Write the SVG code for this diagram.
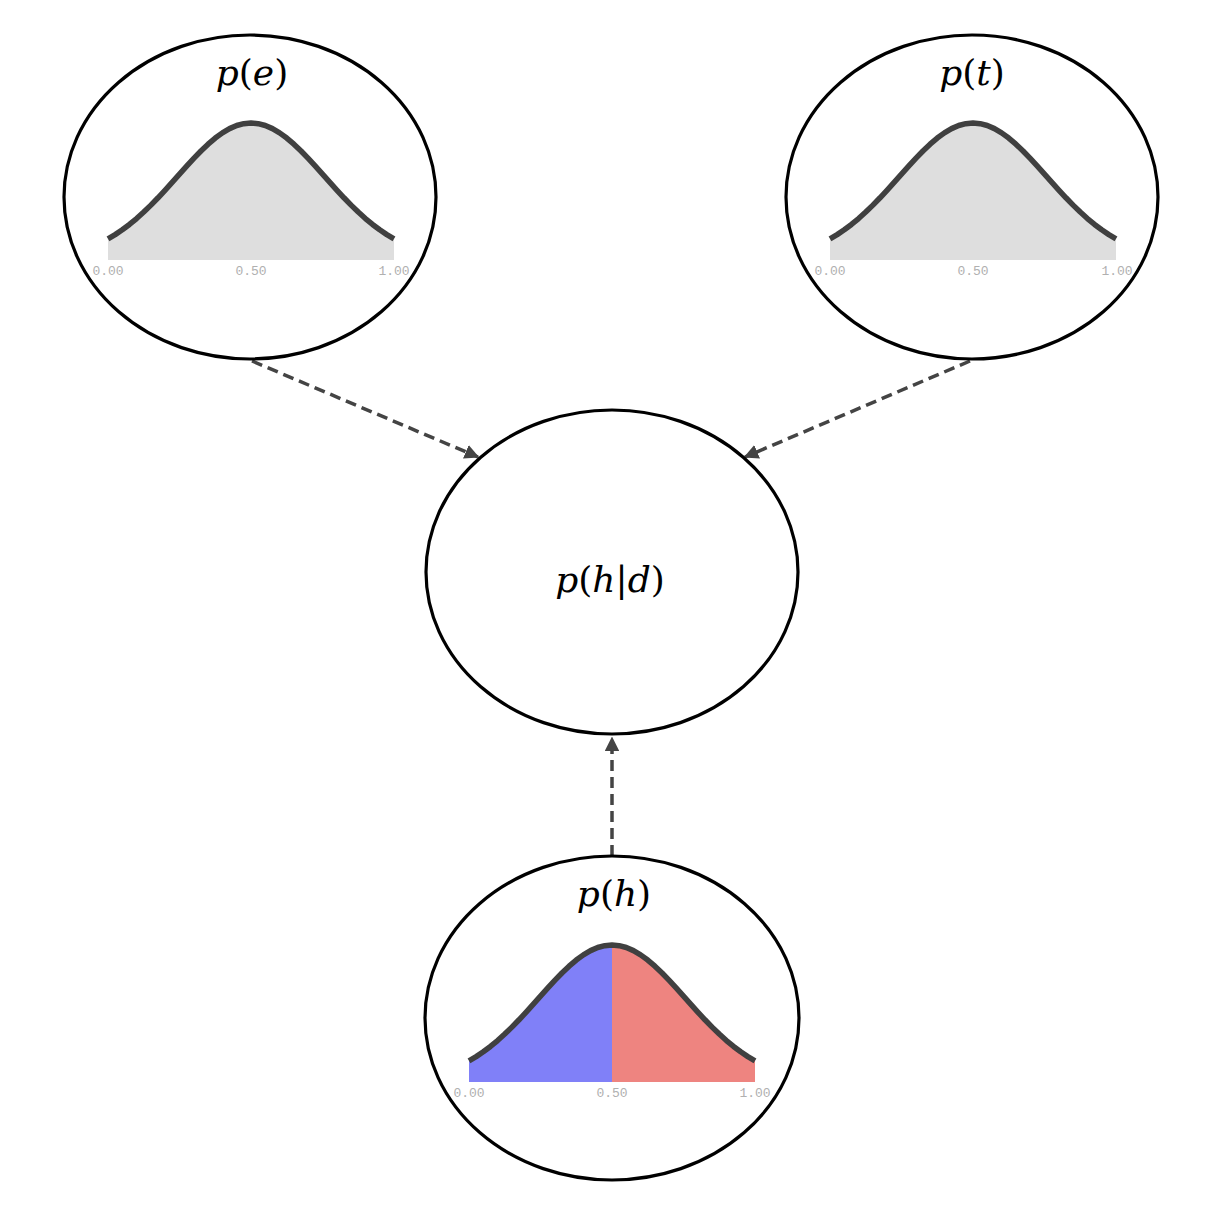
<svg xmlns="http://www.w3.org/2000/svg" width="1216" height="1220" viewBox="0 0 1216 1220">
<style>
.node{fill:#fff;stroke:#000;stroke-width:3.2}
.curve{fill:none;stroke:#404040;stroke-width:5.5;stroke-linejoin:round;stroke-linecap:butt}
.tick{font-family:"Liberation Mono",monospace;font-size:13px;fill:#b0b0b0;text-anchor:middle}
.lbl{font-family:"DejaVu Serif","Liberation Serif",serif;font-size:36px;fill:#000;text-anchor:middle}
.lbl .i{font-style:italic}
.edge{fill:none;stroke:#444;stroke-width:3.5;stroke-dasharray:11 6}
</style>
<defs>
<marker id="arr" viewBox="0 0 10 10" refX="9" refY="5" markerWidth="4.2" markerHeight="4.2" orient="auto" markerUnits="strokeWidth">
<path d="M0,0 L10,5 L0,10 Z" fill="#444"/>
</marker>
<path id="curve" d="M-143,-21.17 L-135.85,-25.41 L-128.7,-30.19 L-121.55,-35.55 L-114.4,-41.47 L-107.25,-47.93 L-100.1,-54.87 L-92.95,-62.24 L-85.8,-69.95 L-78.65,-77.88 L-71.5,-85.9 L-64.35,-93.87 L-57.2,-101.62 L-50.05,-108.99 L-42.9,-115.81 L-35.75,-121.91 L-28.6,-127.14 L-21.45,-131.36 L-14.3,-134.47 L-7.15,-136.36 L0,-137 L7.15,-136.36 L14.3,-134.47 L21.45,-131.36 L28.6,-127.14 L35.75,-121.91 L42.9,-115.81 L50.05,-108.99 L57.2,-101.62 L64.35,-93.87 L71.5,-85.9 L78.65,-77.88 L85.8,-69.95 L92.95,-62.24 L100.1,-54.87 L107.25,-47.93 L114.4,-41.47 L121.55,-35.55 L128.7,-30.19 L135.85,-25.41 L143,-21.17"/>
<path id="area" d="M-143,0 L-143,-21.17 L-135.85,-25.41 L-128.7,-30.19 L-121.55,-35.55 L-114.4,-41.47 L-107.25,-47.93 L-100.1,-54.87 L-92.95,-62.24 L-85.8,-69.95 L-78.65,-77.88 L-71.5,-85.9 L-64.35,-93.87 L-57.2,-101.62 L-50.05,-108.99 L-42.9,-115.81 L-35.75,-121.91 L-28.6,-127.14 L-21.45,-131.36 L-14.3,-134.47 L-7.15,-136.36 L0,-137 L7.15,-136.36 L14.3,-134.47 L21.45,-131.36 L28.6,-127.14 L35.75,-121.91 L42.9,-115.81 L50.05,-108.99 L57.2,-101.62 L64.35,-93.87 L71.5,-85.9 L78.65,-77.88 L85.8,-69.95 L92.95,-62.24 L100.1,-54.87 L107.25,-47.93 L114.4,-41.47 L121.55,-35.55 L128.7,-30.19 L135.85,-25.41 L143,-21.17 L143,0 Z"/>
<clipPath id="leftHalf"><rect x="-150" y="-150" width="150" height="160"/></clipPath>
<clipPath id="rightHalf"><rect x="0" y="-150" width="150" height="160"/></clipPath>
</defs>
<rect width="1216" height="1220" fill="#fff"/>
<g id="connectors">
<line class="edge" x1="252" y1="361" x2="478" y2="457" marker-end="url(#arr)"/>
<line class="edge" x1="970" y1="361" x2="745" y2="457" marker-end="url(#arr)"/>
<line class="edge" x1="612" y1="856" x2="612" y2="738" marker-end="url(#arr)"/>
</g>
<g id="node-pe">
<ellipse class="node" cx="250" cy="197" rx="186" ry="162"/>
<g transform="translate(251,260)">
<use href="#area" fill="#dedede"/>
<use href="#curve" class="curve"/>
</g>
<text class="tick" x="108" y="275">0.00</text>
<text class="tick" x="251" y="275">0.50</text>
<text class="tick" x="394" y="275">1.00</text>
<text class="lbl" x="252" y="85"><tspan class="i">p</tspan>(<tspan class="i">e</tspan>)</text>
</g>
<g id="node-pt">
<ellipse class="node" cx="972" cy="197" rx="186" ry="162"/>
<g transform="translate(973,260)">
<use href="#area" fill="#dedede"/>
<use href="#curve" class="curve"/>
</g>
<text class="tick" x="830" y="275">0.00</text>
<text class="tick" x="973" y="275">0.50</text>
<text class="tick" x="1117" y="275">1.00</text>
<text class="lbl" x="972" y="85"><tspan class="i">p</tspan>(<tspan class="i">t</tspan>)</text>
</g>
<g id="node-phd">
<ellipse class="node" cx="612" cy="572" rx="186" ry="162"/>
<text class="lbl" x="610" y="592"><tspan class="i">p</tspan>(<tspan class="i">h</tspan>|<tspan class="i">d</tspan>)</text>
</g>
<g id="node-ph">
<ellipse class="node" cx="612" cy="1018" rx="187" ry="162"/>
<g transform="translate(612,1082)">
<use href="#area" fill="#8080f8" clip-path="url(#leftHalf)"/>
<use href="#area" fill="#ee8480" clip-path="url(#rightHalf)"/>
<use href="#curve" class="curve"/>
</g>
<text class="tick" x="469" y="1097">0.00</text>
<text class="tick" x="612" y="1097">0.50</text>
<text class="tick" x="755" y="1097">1.00</text>
<text class="lbl" x="614" y="906"><tspan class="i">p</tspan>(<tspan class="i">h</tspan>)</text>
</g>
</svg>
